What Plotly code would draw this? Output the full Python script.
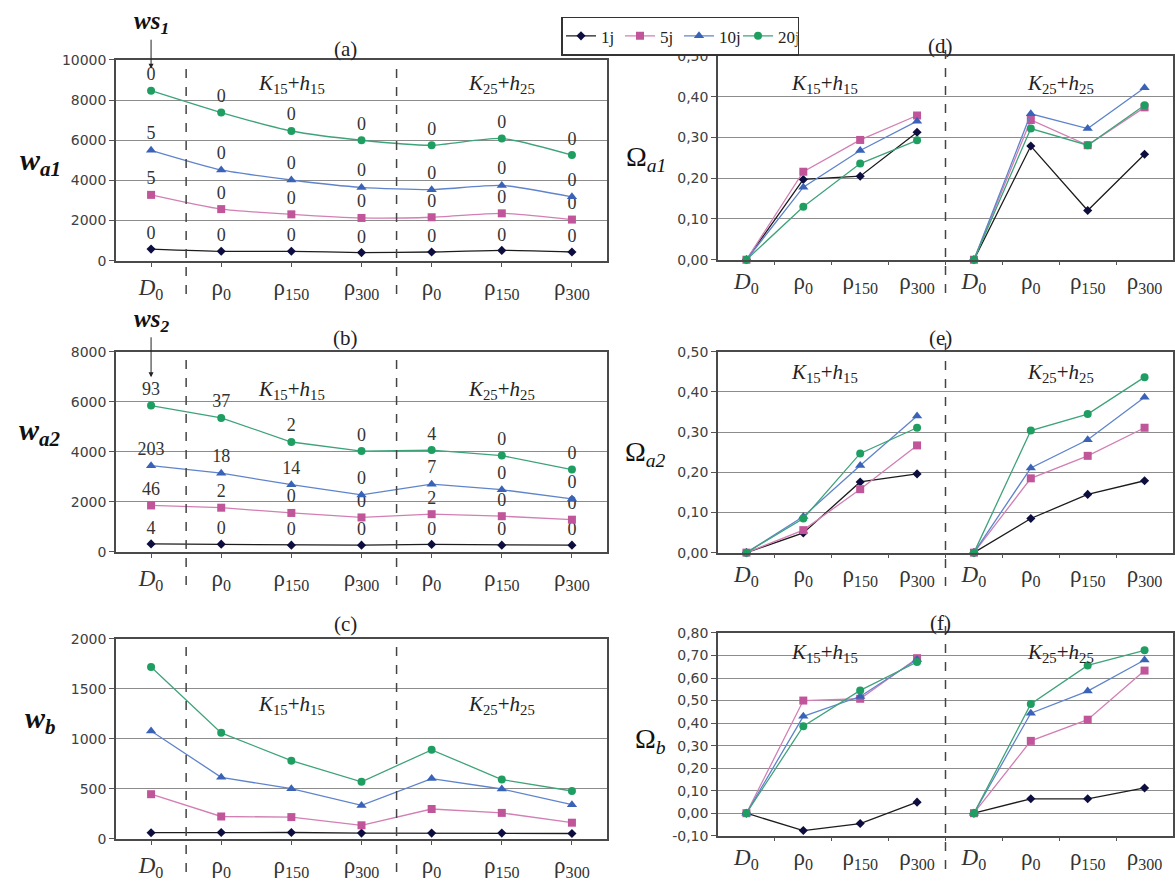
import plotly.graph_objects as go

W, H = 1175, 881

# ---- data -------------------------------------------------------------
series_names = ["1j", "5j", "10j", "20j"]

cats_left = ["<i>D</i><sub>0</sub>", "ρ<sub>0</sub>", "ρ<sub>150</sub>", "ρ<sub>300</sub>",
             "ρ<sub>0</sub>", "ρ<sub>150</sub>", "ρ<sub>300</sub>"]
cats_right = ["<i>D</i><sub>0</sub>", "ρ<sub>0</sub>", "ρ<sub>150</sub>", "ρ<sub>300</sub>",
              "<i>D</i><sub>0</sub>", "ρ<sub>0</sub>", "ρ<sub>150</sub>", "ρ<sub>300</sub>"]

# (a) w_a1
wa1_1j = [580, 470, 470, 405, 435, 515, 435]
wa1_5j = [3280, 2570, 2310, 2130, 2165, 2360, 2050]
wa1_10j = [5500, 4520, 4020, 3650, 3540, 3750, 3180]
wa1_20j = [8470, 7380, 6460, 6000, 5750, 6090, 5260]
ws1_1j = ["0", "0", "0", "0", "0", "0", "0"]
ws1_5j = ["5", "0", "0", "0", "0", "0", "0"]
ws1_10j = ["5", "0", "0", "0", "0", "0", "0"]
ws1_20j = ["0", "0", "0", "0", "0", "0", "0"]

# (b) w_a2
wa2_1j = [310, 300, 260, 260, 290, 260, 260]
wa2_5j = [1850, 1760, 1550, 1370, 1500, 1420, 1280]
wa2_10j = [3440, 3140, 2680, 2270, 2700, 2480, 2110]
wa2_20j = [5850, 5355, 4390, 4025, 4065, 3845, 3285]
ws2_1j = ["4", "0", "0", "0", "0", "0", "0"]
ws2_5j = ["46", "2", "0", "0", "2", "0", "0"]
ws2_10j = ["203", "18", "14", "0", "7", "0", "0"]
ws2_20j = ["93", "37", "2", "0", "4", "0", "0"]

# (c) w_b
wb_1j = [60, 62, 62, 56, 56, 56, 52]
wb_5j = [445, 222, 216, 134, 297, 258, 160]
wb_10j = [1078, 614, 500, 333, 601, 497, 340]
wb_20j = [1719, 1059, 781, 569, 889, 592, 477]

# (d) Omega_a1
oa1_1j = [0, 0.197, 0.205, 0.313, 0, 0.279, 0.121, 0.259]
oa1_5j = [0, 0.216, 0.294, 0.354, 0, 0.343, 0.281, 0.374]
oa1_10j = [0, 0.178, 0.268, 0.340, 0, 0.358, 0.322, 0.422]
oa1_20j = [0, 0.130, 0.236, 0.293, 0, 0.322, 0.281, 0.379]

# (e) Omega_a2
oa2_1j = [0, 0.049, 0.176, 0.196, 0, 0.085, 0.145, 0.179]
oa2_5j = [0, 0.056, 0.158, 0.267, 0, 0.185, 0.241, 0.311]
oa2_10j = [0, 0.090, 0.217, 0.340, 0, 0.211, 0.281, 0.387]
oa2_20j = [0, 0.085, 0.247, 0.311, 0, 0.304, 0.345, 0.437]

# (f) Omega_b
ob_1j = [0, -0.077, -0.046, 0.049, 0, 0.064, 0.064, 0.112]
ob_5j = [0, 0.500, 0.508, 0.688, 0, 0.321, 0.415, 0.633]
ob_10j = [0, 0.430, 0.518, 0.682, 0, 0.444, 0.542, 0.680]
ob_20j = [0, 0.386, 0.545, 0.671, 0, 0.485, 0.656, 0.723]

# ---- styles -----------------------------------------------------------
line_colors = ["#1c1c1c", "#d27fb3", "#5f84cc", "#3fa37a"]
marker_colors = ["#0d0d40", "#c0559a", "#3a63b8", "#1f9e62"]
symbols = ["diamond", "square", "triangle-up", "circle"]
msizes = [7, 8, 9, 8]

SERIF = "Liberation Serif, Times New Roman, serif"
SANS = "DejaVu Sans, Verdana, sans-serif"

def px_x(p):
    return p / W

def px_y(p):
    return 1 - p / H

panels = [
    dict(n=1, xr=(116, 607), yr=(53, 258), cats=cats_left,
         ys=[wa1_1j, wa1_5j, wa1_10j, wa1_20j],
         txt=[ws1_1j, ws1_5j, ws1_10j, ws1_20j], rng=(0, 10000), dt=2000, dec=None,
         shape="spline", groups=[(0, 7)], dash=[0.5, 3.5], title="(a)", ty=42),
    dict(n=2, xr=(116, 607), yr=(351, 555), cats=cats_left,
         ys=[wa2_1j, wa2_5j, wa2_10j, wa2_20j],
         txt=[ws2_1j, ws2_5j, ws2_10j, ws2_20j], rng=(0, 8000), dt=2000, dec=None,
         shape="linear", groups=[(0, 7)], dash=[0.5, 3.5], title="(b)", ty=337),
    dict(n=3, xr=(116, 607), yr=(644, 848), cats=cats_left,
         ys=[wb_1j, wb_5j, wb_10j, wb_20j],
         txt=None, rng=(0, 2000), dt=500, dec=None,
         shape="linear", groups=[(0, 7)], dash=[0.5, 3.5], title="(c)", ty=629),
    dict(n=4, xr=(718, 1173), yr=(49, 257), cats=cats_right,
         ys=[oa1_1j, oa1_5j, oa1_10j, oa1_20j],
         txt=None, rng=(0, 0.5), dt=0.1, dec=2,
         shape="linear", groups=[(0, 4), (4, 8)], dash=[3.5], title="(d)", ty=39),
    dict(n=5, xr=(718, 1173), yr=(351, 556), cats=cats_right,
         ys=[oa2_1j, oa2_5j, oa2_10j, oa2_20j],
         txt=None, rng=(0, 0.5), dt=0.1, dec=2,
         shape="linear", groups=[(0, 4), (4, 8)], dash=[3.5], title="(e)", ty=337),
    dict(n=6, xr=(718, 1173), yr=(638, 845), cats=cats_right,
         ys=[ob_1j, ob_5j, ob_10j, ob_20j],
         txt=None, rng=(-0.1, 0.8), dt=0.1, dec=2,
         shape="linear", groups=[(0, 4), (4, 8)], dash=[3.5], title="(f)", ty=628),
]

fig = go.Figure()
annotations = []
shapes = []
layout_axes = {}

for p in panels:
    n = p["n"]
    xa = "x" if n == 1 else f"x{n}"
    ya = "y" if n == 1 else f"y{n}"
    xs = list(range(len(p["cats"])))
    for i, (name, yv) in enumerate(zip(series_names, p["ys"])):
        for gi, (a, b) in enumerate(p["groups"]):
            mode = "lines+markers"
            kw = {}
            if p["txt"] is not None:
                mode += "+text"
                kw = dict(text=p["txt"][i][a:b], textposition="top center",
                          textfont=dict(family=SERIF, size=18, color="#333333"))
            fig.add_trace(go.Scatter(
                x=xs[a:b], y=yv[a:b], mode=mode, name=name, xaxis=xa, yaxis=ya,
                line=dict(color=line_colors[i], width=1.3, shape=p["shape"], smoothing=0.6),
                marker=dict(symbol=symbols[i], size=msizes[i], color=marker_colors[i]),
                showlegend=(n == 1 and gi == 0), legendgroup=name, cliponaxis=False, **kw))

    lo, hi = p["rng"]
    nt = int(round((hi - lo) / p["dt"]))
    tv = [round(lo + k * p["dt"], 4) for k in range(nt + 1)]
    if p["dec"] is None:
        tt = [f"{int(v)}" for v in tv]
    else:
        tt = [f"{v:.2f}".replace(".", ",") for v in tv]

    right = n >= 4
    layout_axes["xaxis" if n == 1 else f"xaxis{n}"] = dict(
        domain=[px_x(p["xr"][0]), px_x(p["xr"][1])], anchor=ya,
        range=[-0.5, len(xs) - 0.5], tickvals=xs, ticktext=p["cats"],
        ticks="" if right else "outside", ticklen=5, tickcolor="#555",
        minor=dict(ticks="outside", tickvals=[k + 0.5 for k in xs[:-1]], ticklen=4,
                   tickcolor="#555") if right else None,
        showgrid=False, zeroline=False, showline=True, mirror=True,
        linecolor="#4a4a4a", linewidth=1.5,
        tickfont=dict(family=SERIF, size=23, color="#333333"))
    layout_axes["yaxis" if n == 1 else f"yaxis{n}"] = dict(
        domain=[px_y(p["yr"][1]), px_y(p["yr"][0])], anchor=xa,
        range=[lo, hi], tickvals=tv, ticktext=tt,
        ticks="outside", ticklen=5, tickcolor="#555",
        showgrid=True, gridcolor="#8c8c8c", gridwidth=1, zeroline=False,
        showline=True, mirror=True, linecolor="#4a4a4a", linewidth=1.5,
        tickfont=dict(family=SANS, size=14, color="#404040"))

    # group separators
    for d in p["dash"]:
        shapes.append(dict(type="line", xref=xa, yref="paper", x0=d, x1=d,
                           y0=px_y(p["yr"][1] + 34), y1=px_y(p["yr"][0] - (10 if right else 0)),
                           line=dict(color="#444", width=1.5, dash="dash")))

    # panel letter
    cx = (p["xr"][0] + p["xr"][1]) / 2 - (16 if not right else 5)
    annotations.append(dict(text=p["title"], x=px_x(cx), y=px_y(p["ty"]), xref="paper",
                            yref="paper", xanchor="center", yanchor="middle", showarrow=False,
                            font=dict(family=SERIF, size=21, color="#222")))

# group captions
grp_pos = {1: (2.0, 5.0, 78), 2: (2.0, 5.0, 390), 3: (2.0, 5.0, 712),
           4: (1.38, 5.53, 78), 5: (1.38, 5.53, 373), 6: (1.38, 5.53, 658)}
for p in panels:
    n = p["n"]
    xa = "x" if n == 1 else f"x{n}"
    g1, g2, gy = grp_pos[n]
    for gx, lab in ((g1, "<i>K</i><sub>15</sub>+<i>h</i><sub>15</sub>"),
                    (g2, "<i>K</i><sub>25</sub>+<i>h</i><sub>25</sub>")):
        annotations.append(dict(text=lab, x=gx, xref=xa, y=px_y(gy), yref="paper",
                                xanchor="center", yanchor="middle", showarrow=False,
                                font=dict(family=SERIF, size=21, color="#222")))

# axis titles
for txt, yy in (("<b><i>w</i></b><sub><b><i>a1</i></b></sub>", 157),
                ("<b><i>w</i></b><sub><b><i>a2</i></b></sub>", 433),
                ("<b><i>w</i></b><sub><b><i>b</i></b></sub>", 727)):
    annotations.append(dict(text=txt, x=px_x(40), y=px_y(yy), xref="paper", yref="paper",
                            xanchor="center", yanchor="middle", showarrow=False,
                            font=dict(family=SERIF, size=30, color="#111")))
for txt, yy in (("Ω<sub><i>a1</i></sub>", 154), ("Ω<sub><i>a2</i></sub>", 455),
                ("Ω<sub><i>b</i></sub>", 748)):
    annotations.append(dict(text=txt, x=px_x(668), y=px_y(yy), xref="paper", yref="paper",
                            xanchor="right", yanchor="middle", showarrow=False,
                            font=dict(family=SERIF, size=28, color="#111")))

# ws markers with arrows above D0
for txt, head, tail in (("<b><i>ws</i></b><sub><b><i>1</i></b></sub>", 62, 16),
                        ("<b><i>ws</i></b><sub><b><i>2</i></b></sub>", 377, 320)):
    annotations.append(dict(text=txt, x=0, xref="x", y=px_y(head), yref="paper",
                            ax=0, ay=-(head - tail), showarrow=True, arrowhead=2,
                            arrowsize=1, arrowwidth=1, arrowcolor="#222",
                            font=dict(family=SERIF, size=25, color="#111")))

fig.update_layout(
    width=W, height=H, margin=dict(l=0, r=0, t=0, b=0),
    paper_bgcolor="white", plot_bgcolor="white",
    showlegend=True,
    legend=dict(orientation="h", x=px_x(561), y=px_y(9), xanchor="left", yanchor="top",
                bgcolor="white", bordercolor="#333", borderwidth=1.5,
                font=dict(family=SERIF, size=17, color="#222"),
                itemwidth=30, entrywidth=14, entrywidthmode="pixels",
                tracegroupgap=0),
    annotations=annotations, shapes=shapes, **layout_axes)

fig.write_html("out.html")
